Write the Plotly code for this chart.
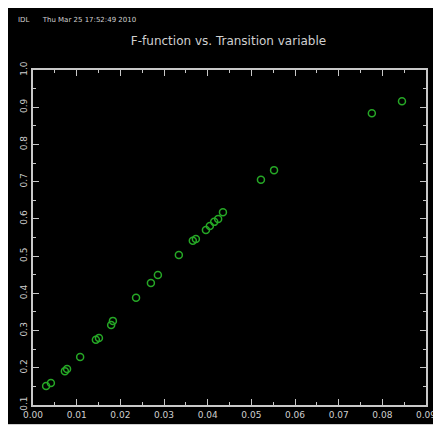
import plotly.graph_objects as go

x_vals = [0.0030, 0.0041, 0.0073, 0.0078, 0.0108, 0.0144, 0.0151, 0.0179, 0.0183,
          0.0236, 0.0270, 0.0286, 0.0334, 0.0366, 0.0373, 0.0396, 0.0405, 0.0415,
          0.0424, 0.0435, 0.0522, 0.0552, 0.0776, 0.0845]
y_vals = [0.151, 0.159, 0.191, 0.197, 0.229, 0.275, 0.280, 0.315, 0.326,
          0.388, 0.428, 0.449, 0.503, 0.541, 0.546, 0.570, 0.581, 0.592,
          0.600, 0.618, 0.705, 0.731, 0.884, 0.916]
x_ticks = [0.00, 0.01, 0.02, 0.03, 0.04, 0.05, 0.06, 0.07, 0.08, 0.09]
x_labels = ["0.00", "0.01", "0.02", "0.03", "0.04", "0.05", "0.06", "0.07", "0.08", "0.09"]
y_ticks = [0.1, 0.2, 0.3, 0.4, 0.5, 0.6, 0.7, 0.8, 0.9, 1.0]
y_labels = ["0.1", "0.2", "0.3", "0.4", "0.5", "0.6", "0.7", "0.8", "0.9", "1.0"]

fig = go.Figure()
fig.add_trace(go.Scatter(
    x=x_vals, y=y_vals, mode="markers",
    marker=dict(symbol="circle-open", size=7, color="#26a826", line=dict(width=1.5)),
    showlegend=False,
))

axis_common = dict(
    showgrid=False, zeroline=False, showline=True, linecolor="#c8c8c8", linewidth=2,
    mirror="ticks", ticks="inside", ticklen=6, tickcolor="#c8c8c8", tickwidth=1,
    tickfont=dict(family="DejaVu Sans", size=9, color="#cfcfcf"),
    minor=dict(ticks="inside", ticklen=3, tickcolor="#c8c8c8", nticks=5),
)

fig.update_layout(
    width=441, height=425,
    paper_bgcolor="black", plot_bgcolor="black",
    margin=dict(l=25, r=23, t=62, b=28),
    title=dict(text="F-function vs. Transition variable", x=0.5, xanchor="center",
               y=1 - 33 / 425, yanchor="middle",
               font=dict(family="DejaVu Sans", size=12, color="#d0d0d0")),
    xaxis=dict(range=[0, 0.09], tickvals=x_ticks, ticktext=x_labels, **axis_common),
    yaxis=dict(range=[0.1, 1.0], tickvals=y_ticks, ticktext=y_labels, tickangle=-90,
               **axis_common),
    annotations=[dict(text="IDL&nbsp;&nbsp;&nbsp;&nbsp;&nbsp;&nbsp;Thu Mar 25 17:52:49 2010",
                      xref="paper", yref="paper",
                      x=-17 / 393, y=1 + (62 - 12) / 335, xanchor="left", yanchor="middle",
                      showarrow=False,
                      font=dict(family="DejaVu Sans", size=7, color="#d0d0d0"))],
    shapes=[dict(type="rect", xref="paper", yref="paper",
                 x0=-25 / 393, x1=1 + 23 / 393, y0=-32 / 335, y1=-19 / 335,
                 fillcolor="#d0d0d0", line=dict(width=0), layer="above")],
)

fig.write_html("out.html")
